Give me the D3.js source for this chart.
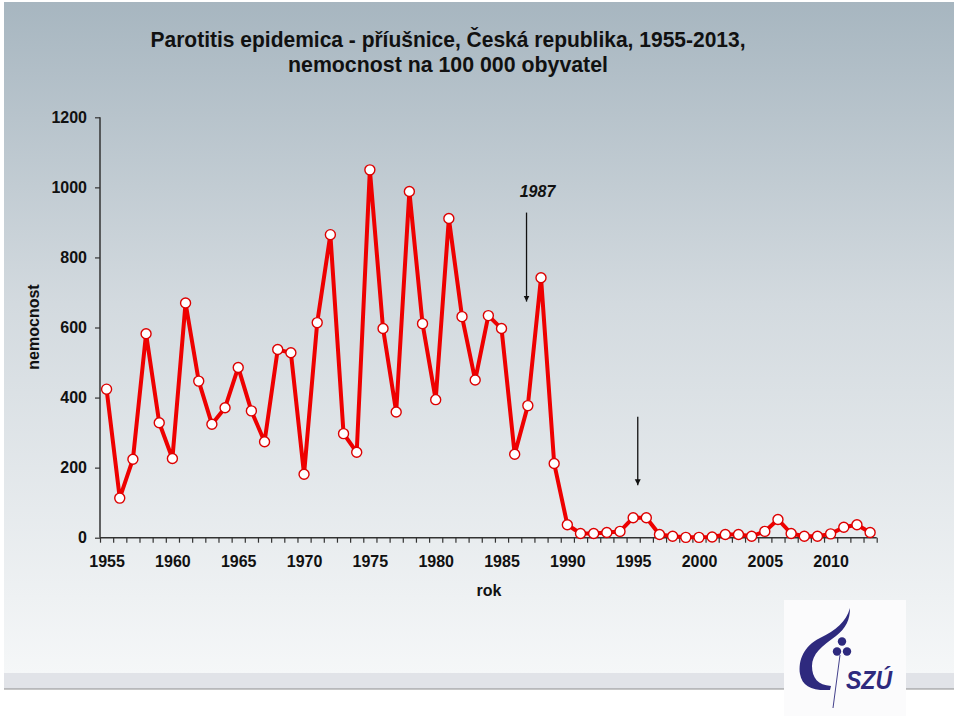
<!DOCTYPE html>
<html><head><meta charset="utf-8">
<script src="https://cdn.jsdelivr.net/npm/d3@7"></script>
<style>html,body{margin:0;padding:0;background:#fff;}svg{display:block;}</style>
</head><body>
<script>
const years = d3.range(1955, 2014);
const values = [424,113,224,582,328,226,670,447,324,371,486,362,274,537,528,181,614,865,
  297,244,1050,597,359,988,611,394,911,631,450,634,597,238,377,742,212,
  37,12,12,15,18,57,57,9,4,1,1,2,9,9,4,18,52,12,4,4,11,30,37,15];
const yTicks = [0,200,400,600,800,1000,1200];
const xLabels = [1955,1960,1965,1970,1975,1980,1985,1990,1995,2000,2005,2010];
const titleLines = ["Parotitis epidemica - příušnice, Česká republika, 1955-2013,", "nemocnost na 100 000 obyvatel"];
const arrows = [{year:1986.9, from:928, to:674, label:"1987", labelAt:973}, {year:1995.35, from:345, to:150, label:"", labelAt:0}];

const W = 960, H = 716;
const svg = d3.select("body").append("svg").attr("width", W).attr("height", H);
const defs = svg.append("defs");
const g = defs.append("linearGradient").attr("id","bg").attr("x1",0).attr("y1",0).attr("x2",0).attr("y2",1);
g.append("stop").attr("offset","0%").attr("stop-color","#a7b6c0");
g.append("stop").attr("offset","45%").attr("stop-color","#d3dadf");
g.append("stop").attr("offset","100%").attr("stop-color","#f5f7f8");
const mk = defs.append("marker").attr("id","ah").attr("viewBox","0 0 10 10").attr("refX",10).attr("refY",5)
  .attr("markerWidth",6).attr("markerHeight",7).attr("markerUnits","userSpaceOnUse").attr("orient","auto");
mk.append("path").attr("d","M0,0L10,5L0,10z").attr("fill","#111");

svg.append("rect").attr("x",0).attr("y",0).attr("width",W).attr("height",H).attr("fill","#fff");
svg.append("rect").attr("x",4).attr("y",2).attr("width",950).attr("height",671).attr("fill","url(#bg)");
svg.append("rect").attr("x",4).attr("y",673).attr("width",950).attr("height",16).attr("fill","#e1e3e8");
svg.append("line").attr("x1",4).attr("x2",954).attr("y1",689).attr("y2",689).attr("stroke","#8e8e8e").attr("stroke-width",1.2);

const font = "Liberation Sans, Arial, Helvetica, sans-serif";
// title
svg.append("text").attr("x",448).attr("y",47).attr("text-anchor","middle")
  .attr("font-family","Liberation Sans Narrow, Arial Narrow, Liberation Sans, sans-serif").attr("font-weight","bold")
  .attr("font-size",22.5).attr("fill","#111").attr("textLength",595).attr("lengthAdjust","spacingAndGlyphs").text(titleLines[0]);
svg.append("text").attr("x",448).attr("y",72).attr("text-anchor","middle")
  .attr("font-family","Liberation Sans Narrow, Arial Narrow, Liberation Sans, sans-serif").attr("font-weight","bold")
  .attr("font-size",22.5).attr("fill","#111").attr("textLength",320).attr("lengthAdjust","spacingAndGlyphs").text(titleLines[1]);

const x = d3.scaleLinear().domain([1954.5, 2013.5]).range([100, 876.7]);
const y = d3.scaleLinear().domain([0, 1200]).range([537.7, 117.3]);

// y axis
const ya = svg.append("g").attr("transform","translate(100,0)")
  .call(d3.axisLeft(y).tickValues(yTicks).tickSize(5).tickPadding(8).tickFormat(d3.format("d")));
ya.select(".domain").attr("stroke","#333").attr("stroke-width",1.5).attr("d", `M-0,${y(1200)}H0V${y(0)}`);
ya.selectAll(".tick line").attr("stroke","#333").attr("stroke-width",1.2);
ya.selectAll("text").attr("font-family",font).attr("font-weight","bold").attr("font-size",16).attr("fill","#111");

// x axis ticks
const xa = svg.append("g").attr("transform",`translate(0,${y(0)})`)
  .call(d3.axisBottom(x).tickValues(d3.range(1954.5, 2014, 1)).tickSize(5).tickFormat(""));
xa.select(".domain").attr("stroke","#333").attr("stroke-width",1.5).attr("d",`M${x(1954.5)},0H${x(2013.5)}`);
xa.selectAll(".tick line").attr("stroke","#333").attr("stroke-width",1.2);
const xl = svg.append("g").attr("transform",`translate(0,${y(0)})`)
  .call(d3.axisBottom(x).tickValues(xLabels).tickSize(0).tickPadding(18).tickFormat(d3.format("d")));
xl.select(".domain").remove();
xl.selectAll("text").attr("font-family",font).attr("font-weight","bold").attr("font-size",16).attr("fill","#111");

// axis titles
svg.append("text").attr("x",489).attr("y",596).attr("text-anchor","middle").attr("font-family",font)
  .attr("font-weight","bold").attr("font-size",16).attr("fill","#111").text("rok");
svg.append("text").attr("transform","translate(39,327) rotate(-90)").attr("text-anchor","middle").attr("font-family",font)
  .attr("font-weight","bold").attr("font-size",16).attr("fill","#111").text("nemocnost");

// line
const data = years.map((yr,i)=>({yr, v: values[i]}));
svg.append("path").datum(data).attr("fill","none").attr("stroke","#ee0000").attr("stroke-width",4)
  .attr("stroke-linejoin","round")
  .attr("d", d3.line().x(d=>x(d.yr)).y(d=>y(d.v)));
svg.append("g").selectAll("circle").data(data).join("circle")
  .attr("cx",d=>x(d.yr)).attr("cy",d=>y(d.v)).attr("r",5)
  .attr("fill","#fff").attr("stroke","#dd0000").attr("stroke-width",1.4);

// arrows
arrows.forEach(a=>{
  const ax = x(a.year);
  svg.append("line").attr("x1",ax).attr("x2",ax).attr("y1",y(a.from)).attr("y2",y(a.to))
    .attr("stroke","#111").attr("stroke-width",1.3).attr("marker-end","url(#ah)");
  if (a.label) svg.append("text").attr("x",ax+11).attr("y",y(a.labelAt)).attr("text-anchor","middle")
    .attr("font-family",font).attr("font-weight","bold").attr("font-style","italic").attr("font-size",16)
    .attr("fill","#111").text(a.label);
});

// logo
const lg = svg.append("g");
lg.append("rect").attr("x",784).attr("y",600).attr("width",122).attr("height",116).attr("fill","#fbfbfc");
const navy = "#2e2a7e";
lg.append("path").attr("fill",navy)
  .attr("d","M850,608 C846,622 836,630 820,638 C804,646 798,660 800,674 C802,686 812,691 830,690 L831,686 C818,685 812,678 812,666 C812,654 822,646 836,636 C846,628 850,620 850,608 Z");
lg.append("line").attr("x1",840).attr("y1",655).attr("x2",833).attr("y2",708).attr("stroke",navy).attr("stroke-width",0.9);
[[842,641.5],[837,651.5],[847,651.5]].forEach(p=>lg.append("circle").attr("cx",p[0]).attr("cy",p[1]).attr("r",4.2).attr("fill",navy));
lg.append("text").attr("x",846).attr("y",689).attr("font-family",font).attr("font-weight","bold").attr("font-style","italic")
  .attr("font-size",26).attr("fill",navy).attr("textLength",46).attr("lengthAdjust","spacingAndGlyphs").text("SZÚ");
</script>
</body></html>
